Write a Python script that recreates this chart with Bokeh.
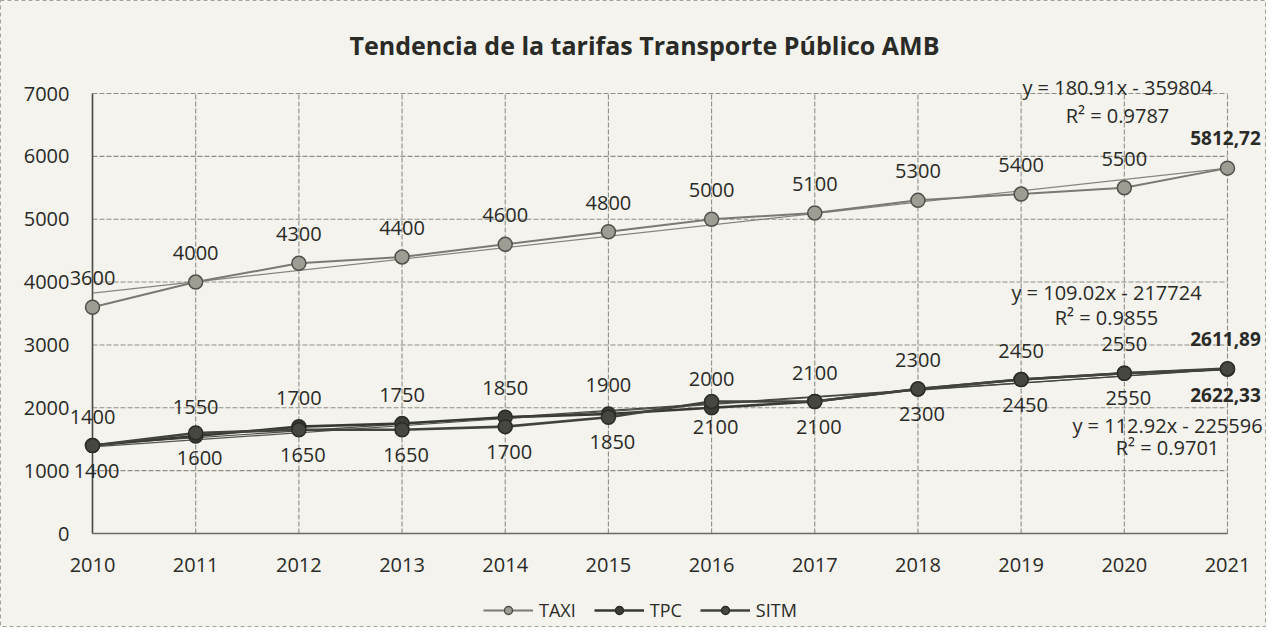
import numpy as np
from bokeh.plotting import figure
from bokeh.models import (ColumnDataSource, LabelSet, Label, Legend, LegendItem, Range1d)
from bokeh.core.properties import value
from bokeh.embed import file_html
from bokeh.resources import INLINE

# ---------------- data ----------------
years = [2010, 2011, 2012, 2013, 2014, 2015, 2016, 2017, 2018, 2019, 2020, 2021]
taxi = [3600, 4000, 4300, 4400, 4600, 4800, 5000, 5100, 5300, 5400, 5500, 5812.72]
tpc = [1400, 1550, 1700, 1750, 1850, 1900, 2000, 2100, 2300, 2450, 2550, 2611.89]
sitm = [1400, 1600, 1650, 1650, 1700, 1850, 2100, 2100, 2300, 2450, 2550, 2622.33]
series_names = ["TAXI", "TPC", "SITM"]
trend_eqs = ["y = 180.91x - 359804", "y = 109.02x - 217724", "y = 112.92x - 225596"]
trend_r2 = ["R² = 0.9787", "R² = 0.9855", "R² = 0.9701"]
title_text = "Tendencia de la tarifas Transporte Público AMB"
y_ticks = [0, 1000, 2000, 3000, 4000, 5000, 6000, 7000]

# ---------------- style / layout ----------------
BG = "#f4f3ee"
TXT = "#2a2a26"
GRID = "#8e8d86"
FONT_NAME = "Open Sans"
FONT = value(FONT_NAME)
FS = "20px"
series_style = {
    "TAXI": dict(line="#7a7a72", fill="#9d9d94", outline="#50504b", lw=2.0),
    "TPC": dict(line="#393934", fill="#3d3d38", outline="#2a2a26", lw=2.6),
    "SITM": dict(line="#43433e", fill="#474742", outline="#2a2a26", lw=2.6),
}

W, H = 1266, 627
X0_PX, X1_PX = 92, 1227      # canvas px of first / last year
YT_PX, YB_PX = 93, 533       # canvas px of top / bottom tick
sx = (X1_PX - X0_PX) / (years[-1] - years[0])
sy = (YB_PX - YT_PX) / (y_ticks[-1] - y_ticks[0])
x_range = Range1d(years[0] - X0_PX / sx, years[-1] + (W - X1_PX) / sx)
y_range = Range1d(y_ticks[0] - (H - YB_PX) / sy, y_ticks[-1] + YT_PX / sy)


def X(px):
    return x_range.start + px / sx


def Y(py):
    return y_range.end - py / sy


def fmt(v):
    if float(v).is_integer():
        return str(int(v))
    return f"{v:.2f}".replace(".", ",")


p = figure(width=W, height=H, x_range=x_range, y_range=y_range,
           x_axis_type=None, y_axis_type=None,
           output_backend="svg", toolbar_location=None,
           min_border=0, background_fill_color=BG, border_fill_color=BG)
p.grid.visible = False
p.outline_line_color = "#a3a29b"
p.outline_line_dash = "4 3"

# gridlines
p.segment(x0=years[0], x1=years[-1], y0=y_ticks, y1=y_ticks,
          line_color=GRID, line_width=1.1, line_dash="5 2")
p.segment(x0=years, x1=years, y0=y_ticks[0], y1=y_ticks[-1],
          line_color=GRID, line_width=1.1, line_dash="5 2")
# axis lines
p.segment(x0=[years[0]], x1=[years[0]], y0=[y_ticks[0]], y1=[y_ticks[-1]],
          line_color="#4a4a45", line_width=1.6)
p.segment(x0=[years[0]], x1=[years[-1]], y0=[y_ticks[0]], y1=[y_ticks[0]],
          line_color="#6a6a64", line_width=1.3)

# tick labels
ytl = ColumnDataSource(dict(x=[years[0]] * len(y_ticks), y=y_ticks, t=[str(v) for v in y_ticks]))
p.add_layout(LabelSet(x="x", y="y", text="t", source=ytl, x_offset=-23,
                      text_align="right", text_baseline="middle",
                      text_font=FONT, text_font_size=FS, text_color=TXT))
xtl = ColumnDataSource(dict(x=years, y=[y_ticks[0]] * len(years), t=[str(v) for v in years]))
p.add_layout(LabelSet(x="x", y="y", text="t", source=xtl, y_offset=-31,
                      text_align="center", text_baseline="middle",
                      text_font=FONT, text_font_size=FS, text_color=TXT))

# title
p.add_layout(Label(x=X(644), y=Y(44), text=title_text, text_align="center",
                   text_baseline="middle", text_font=FONT_NAME, text_font_size="25px",
                   text_font_style="bold", text_color=TXT))

data = {"TAXI": taxi, "TPC": tpc, "SITM": sitm}
label_side = {"TAXI": 1, "TPC": 1, "SITM": -1}
legend_items = []

xs = np.array(years, dtype=float)
for name in series_names:
    vals = data[name]
    st = series_style[name]
    # linear trendline fitted to the series
    k, b = np.polyfit(xs, np.array(vals, dtype=float), 1)
    p.line([xs[0], xs[-1]], [k * xs[0] + b, k * xs[-1] + b],
           line_color=st["line"], line_width=1.2, line_alpha=0.9)
    r_line = p.line(years, vals, line_color=st["line"], line_width=st["lw"])
    r_pts = p.scatter(years, vals, size=14, marker="circle", fill_color=st["fill"],
                      line_color=st["outline"], line_width=1.5)
    legend_items.append(LegendItem(label=name, renderers=[r_line, r_pts]))

    side = label_side[name]
    src = ColumnDataSource(dict(x=years[:-1], y=vals[:-1], t=[fmt(v) for v in vals[:-1]]))
    p.add_layout(LabelSet(x="x", y="y", text="t", source=src,
                          y_offset=29 if side > 0 else -25,
                          x_offset=0 if side > 0 else 4,
                          text_align="center", text_baseline="middle",
                          text_font=FONT, text_font_size=FS, text_color=TXT))
    src_last = ColumnDataSource(dict(x=years[-1:], y=vals[-1:], t=[fmt(vals[-1])]))
    p.add_layout(LabelSet(x="x", y="y", text="t", source=src_last,
                          y_offset=30 if side > 0 else -26, x_offset=-2,
                          text_align="center", text_baseline="middle",
                          text_font=FONT, text_font_size="19px", text_font_style="bold",
                          text_color=TXT))

# trendline equation labels (px of line centres)
eq_pos = [(1117, 87, 115), (1106, 292, 317), (1167, 425, 447)]
for (ex, ey1, ey2), eq, r2 in zip(eq_pos, trend_eqs, trend_r2):
    for txt, ey in ((eq, ey1), (r2, ey2)):
        p.add_layout(Label(x=X(ex), y=Y(ey), text=txt, text_align="center",
                           text_baseline="middle", text_font=FONT_NAME, text_font_size=FS,
                           text_color=TXT))

legend = Legend(items=legend_items, orientation="horizontal", location=(479, 1),
                background_fill_alpha=0, border_line_alpha=0,
                label_text_font=FONT_NAME, label_text_font_size="18px", label_text_color=TXT,
                glyph_width=50, glyph_height=20, spacing=18, label_standoff=6,
                margin=0, padding=4)
p.add_layout(legend, "center")

open("out.html", "w").write(file_html(p, INLINE))
